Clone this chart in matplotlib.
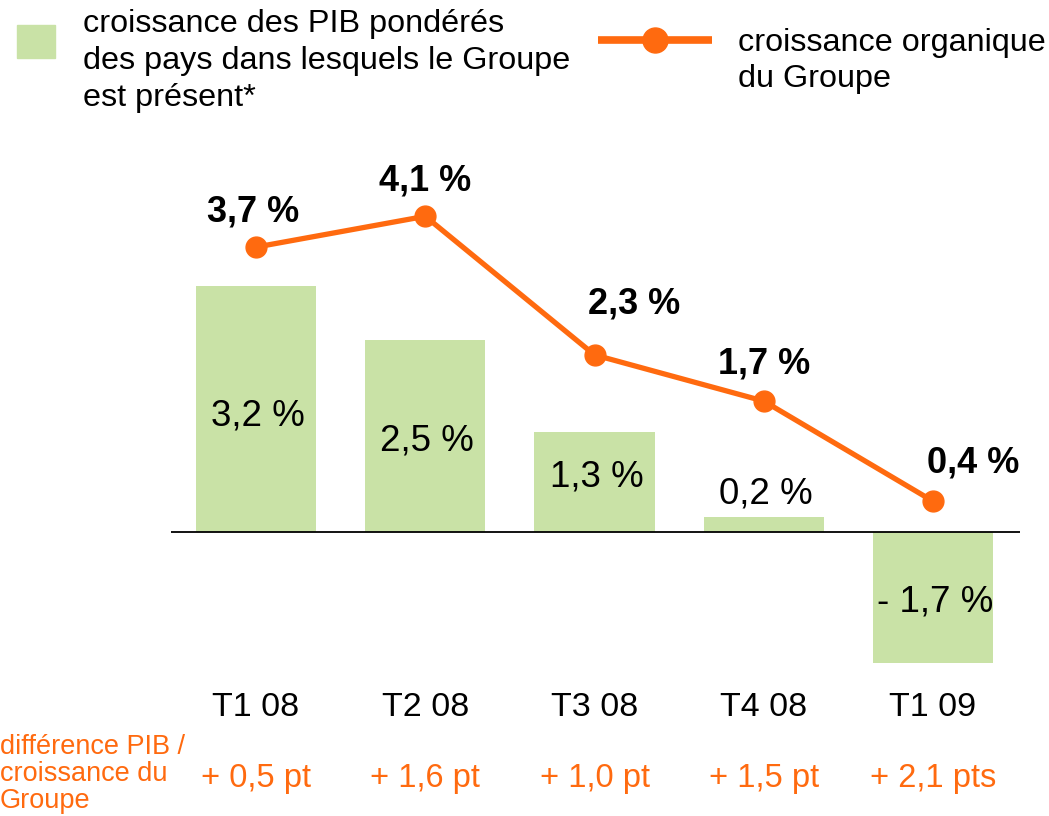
import numpy as np
import matplotlib.pyplot as plt

plt.rcParams['font.family'] = ['Liberation Sans', 'DejaVu Sans']

# Data
quarters = ['T1 08', 'T2 08', 'T3 08', 'T4 08', 'T1 09']
pib = [3.2, 2.5, 1.3, 0.2, -1.7]
groupe = [3.7, 4.1, 2.3, 1.7, 0.4]
ecart = ['+ 0,5 pt', '+ 1,6 pt', '+ 1,0 pt', '+ 1,5 pt', '+ 2,1 pts']

green = '#C9E2A6'
orange = '#FF6A0F'

def fmt(v):
    s = '{:.1f}'.format(abs(v)).replace('.', ',') + ' %'
    return ('- ' + s) if v < 0 else s

W, H = 1049, 816
fig = plt.figure(figsize=(W / 100, H / 100), dpi=100)
ax = fig.add_axes([0, 0, 1, 1])
ax.axis('off')

# pixel mapping: x_px = 256 + 169.25*i, y_px = 532 - 77*v
x = np.arange(len(quarters))
ax.set_xlim((0 - 256) / 169.25, (W - 256) / 169.25)
ax.set_ylim((532 - H) / 77, 532 / 77)

ax.bar(x, pib, width=0.71, color=green, zorder=1)
ax.hlines(0, -0.502, 4.514, color='black', lw=1.3, zorder=2)
ax.plot(x, groupe, color=orange, lw=3.8, marker='o', ms=15, zorder=3)

# labels of bars
bar_offs = [-7, -5, 5, 0, -5]
for i, v in enumerate(pib):
    y = v + 0.3 if abs(v) < 0.5 else v / 2
    ax.annotate(fmt(v), (i, y), xytext=(2, bar_offs[i]), textcoords='offset pixels',
                ha='center', va='center', fontsize=26.5)

# labels of line
offs = [(-3, 35), (0, 35), (40, 51), (0, 37), (40, 38)]
for i, v in enumerate(groupe):
    ax.annotate(fmt(v), (i, v), xytext=offs[i], textcoords='offset pixels',
                ha='center', va='center', fontsize=26, fontweight='bold')

# category labels and differences
for i, q in enumerate(quarters):
    ax.annotate(q, (i, 0), xytext=(0, 532 - 708), textcoords='offset pixels',
                ha='center', va='center', fontsize=24.5)
    ax.annotate(ecart[i], (i, 0), xytext=(0, 532 - 778), textcoords='offset pixels',
                ha='center', va='center', fontsize=23.5, color=orange)

fig.text(0, 1 - 774 / H, 'différence PIB /\ncroissance du\nGroupe', ha='left',
         va='center', fontsize=19.5, color=orange, linespacing=1.05)

# legend
fig.patches.append(plt.Rectangle((17 / W, 1 - 58 / H), 38 / W, 33 / H,
                                 transform=fig.transFigure, color=green))
fig.text(83 / W, 1 - 61 / H,
         'croissance des PIB pondérés\ndes pays dans lesquels le Groupe\nest présent*',
         ha='left', va='center', fontsize=23.3, linespacing=1.29)
fig.lines.append(plt.Line2D([598 / W, 712 / W], [1 - 40 / H, 1 - 40 / H],
                            transform=fig.transFigure, color=orange, lw=5.5,
                            marker='', solid_capstyle='butt'))
fig.lines.append(plt.Line2D([655 / W], [1 - 40 / H], transform=fig.transFigure,
                            color=orange, marker='o', ms=18))
fig.text(738 / W, 1 - 61 / H, 'croissance organique\ndu Groupe', ha='left',
         va='center', fontsize=23.3, linespacing=1.29)

fig.savefig('out.png', dpi=100)
